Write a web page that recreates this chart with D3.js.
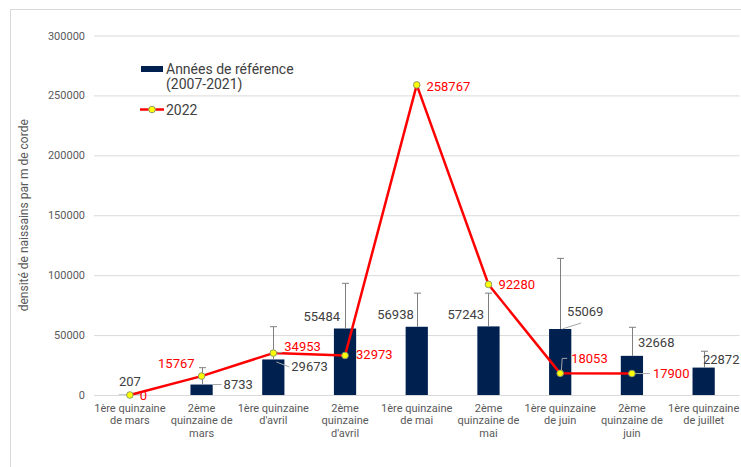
<!DOCTYPE html>
<html><head><meta charset="utf-8">
<script src="https://cdn.jsdelivr.net/npm/d3@7"></script>
<style>
body{margin:0;background:#fff;}
svg{display:block;font-family:Roboto, "Liberation Sans", sans-serif;}
</style></head>
<body><svg id="c" width="741" height="467"></svg>
<script>
// ---- data ----
const categories = [
  ["1ère quinzaine","de mars"],
  ["2ème","quinzaine de","mars"],
  ["1ère quinzaine","d'avril"],
  ["2ème","quinzaine","d'avril"],
  ["1ère quinzaine","de mai"],
  ["2ème","quinzaine de","mai"],
  ["1ère quinzaine","de juin"],
  ["2ème","quinzaine de","juin"],
  ["1ère quinzaine","de juillet"]
];
const refValues = [207, 8733, 29673, 55484, 56938, 57243, 55069, 32668, 22872];
const refErrTop = [null, 22800, 57000, 93200, 85000, 85000, 114000, 56500, 36500];
const values2022 = [0, 15767, 34953, 32973, 258767, 92280, 18053, 17900, null];
const yTicks = [0, 50000, 100000, 150000, 200000, 250000, 300000];
const seriesNames = ["Années de référence", "(2007-2021)", "2022"];
const yTitle = "densité de naissains par m de corde";

// ---- label placement (style) ----
const barLabelPos = [
  {dx:0, dy:-9, a:"middle"},
  {dx:22, dy:4, a:"start", lead:[[11,0],[20,0]]},
  {dx:18, dy:11.6, a:"start", lead:[[3,2.5],[16,7.5]]},
  {dx:-5, dy:-7.5, a:"end"},
  {dx:-3, dy:-8, a:"end"},
  {dx:-4.4, dy:-7.4, a:"end"},
  {dx:6.7, dy:-13, a:"start", lead:[[2,0],[21,-6]]},
  {dx:6, dy:-9, a:"start"},
  {dx:35.8, dy:-3.6, a:"end"}
];
const lineLabelPos = [
  {dx:10, dy:5, a:"start"},
  {dx:-7, dy:-8.4, a:"end"},
  {dx:11, dy:-2, a:"start", lead:[[3,0],[9,-1]]},
  {dx:11, dy:3.5, a:"start"},
  {dx:9.7, dy:5.6, a:"start"},
  {dx:10, dy:5, a:"start"},
  {dx:11, dy:-10, a:"start", lead:[[1,0],[2,-15],[7,-15]]},
  {dx:21, dy:4, a:"start", lead:[[3,0],[18,0]]},
  null
];

const svg = d3.select("#c");
const pLeft = 94, pRight = 739.5, pTop = 35.5, pBottom = 395;

// frame
svg.append("rect").attr("x",10.5).attr("y",9.5).attr("width",740).attr("height",470)
  .attr("fill","none").attr("stroke","#d9d9d9");

const x = d3.scaleBand().domain(d3.range(categories.length)).range([pLeft,pRight])
  .paddingInner(0.69).paddingOuter(0.345);
const y = d3.scaleLinear().domain([0,300000]).range([pBottom,pTop]);

// gridlines + y axis
const yAxis = d3.axisLeft(y).tickValues(yTicks).tickSize(-(pRight-pLeft)).tickPadding(9)
  .tickFormat(d3.format("d"));
const gy = svg.append("g").attr("transform",`translate(${pLeft},0)`).call(yAxis);
gy.select(".domain").remove();
gy.selectAll(".tick line").attr("stroke","#d9d9d9");
gy.selectAll(".tick text").attr("fill","#595959").style("font-size","11px")
  .style("font-family","Roboto, sans-serif");

// y title
svg.append("text").attr("transform",`translate(28,${(pTop+pBottom)/2}) rotate(-90)`)
  .attr("text-anchor","middle").attr("fill","#595959").style("font-size","12px").text(yTitle);

// x labels
const xg = svg.append("g");
categories.forEach((lines,i)=>{
  const t = xg.append("text").attr("text-anchor","middle").attr("fill","#595959")
    .style("font-size","11px");
  lines.forEach((l,j)=>{
    t.append("tspan").attr("x", x(i)+x.bandwidth()/2).attr("y", 411.5 + j*12.5).text(l);
  });
});

// bars
svg.append("g").selectAll("rect").data(refValues).join("rect")
  .attr("x",(d,i)=>x(i)).attr("width",x.bandwidth())
  .attr("y",d=>y(d)).attr("height",d=>pBottom-y(d)).attr("fill","#002150");

// error bars
const eg = svg.append("g").attr("stroke","#7f7f7f").attr("stroke-width",1);
refErrTop.forEach((e,i)=>{
  if(e==null) return;
  const cx = Math.round(x(i)+x.bandwidth()/2)+0.5;
  eg.append("line").attr("x1",cx).attr("x2",cx).attr("y1",y(refValues[i])).attr("y2",y(e));
  eg.append("line").attr("x1",cx-3.5).attr("x2",cx+3.5).attr("y1",y(e)).attr("y2",y(e));
});

// bar labels
refValues.forEach((v,i)=>{
  const p = barLabelPos[i];
  const cx = x(i)+x.bandwidth()/2, cy = y(v);
  if(p.lead){
    svg.append("path").attr("d", d3.line()(p.lead.map(q=>[cx+q[0],cy+q[1]])))
      .attr("fill","none").attr("stroke","#a6a6a6").attr("stroke-width",1);
  }
  svg.append("text").attr("x",cx+p.dx).attr("y",cy+p.dy).attr("text-anchor",p.a)
    .attr("fill","#404040").style("font-size","13px").text(d3.format("d")(v));
});

// 2022 line
const pts = values2022.map((v,i)=>v==null?null:[x(i)+x.bandwidth()/2, y(v)]).filter(d=>d);
svg.append("path").attr("d", d3.line()(pts)).attr("fill","none")
  .attr("stroke","#ff0000").attr("stroke-width",2.5).attr("stroke-linejoin","round");

// line labels + leaders
values2022.forEach((v,i)=>{
  if(v==null) return;
  const p = lineLabelPos[i];
  const cx = x(i)+x.bandwidth()/2, cy = y(v);
  if(p.lead){
    svg.append("path").attr("d", d3.line()(p.lead.map(q=>[cx+q[0],cy+q[1]])))
      .attr("fill","none").attr("stroke","#a6a6a6").attr("stroke-width",1);
  }
  svg.append("text").attr("x",cx+p.dx).attr("y",cy+p.dy).attr("text-anchor",p.a)
    .attr("fill","#ff0000").style("font-size","13px").text(d3.format("d")(v));
});

// markers
svg.append("g").selectAll("circle").data(pts).join("circle")
  .attr("cx",d=>d[0]).attr("cy",d=>d[1]).attr("r",3.3)
  .attr("fill","#ffff00").attr("stroke","#8c9a6a").attr("stroke-width",1);

// legend
const lg = svg.append("g");
lg.append("rect").attr("x",141).attr("y",66).attr("width",22).attr("height",6).attr("fill","#002150");
lg.append("text").attr("x",166).attr("y",73.5).attr("fill","#404040").style("font-size","14px").text(seriesNames[0]);
lg.append("text").attr("x",166).attr("y",88.5).attr("fill","#404040").style("font-size","14px").text(seriesNames[1]);
lg.append("line").attr("x1",140).attr("x2",164).attr("y1",109.5).attr("y2",109.5)
  .attr("stroke","#ff0000").attr("stroke-width",2.5);
lg.append("circle").attr("cx",152).attr("cy",109.5).attr("r",3.3)
  .attr("fill","#ffff00").attr("stroke","#8c9a6a").attr("stroke-width",1);
lg.append("text").attr("x",166).attr("y",114.5).attr("fill","#404040").style("font-size","14px").text(seriesNames[2]);
</script></body></html>
